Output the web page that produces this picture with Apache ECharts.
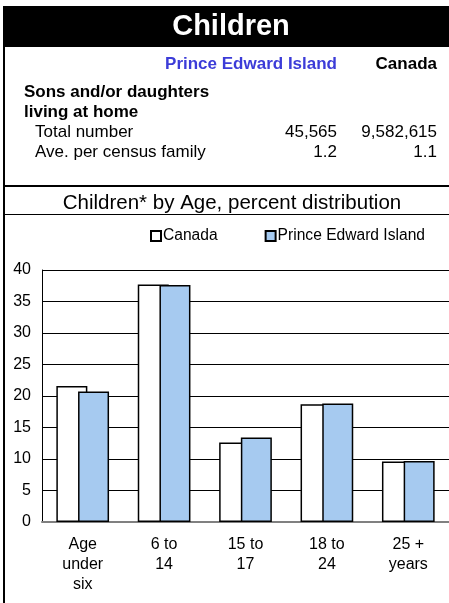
<!DOCTYPE html>
<html>
<head>
<meta charset="utf-8">
<script src="https://cdn.jsdelivr.net/npm/echarts@6/dist/echarts.min.js"></script>
<style>html,body{margin:0;padding:0;background:#fff;}#main{width:449px;height:603px;}</style>
</head>
<body>
<div id="main"></div>
<script>
var categories = ['Age\nunder\nsix', '6 to\n14', '15 to\n17', '18 to\n24', '25 +\nyears'];
var canadaValues = [21.6, 37.7, 12.6, 18.7, 9.6];
var peiValues = [20.7, 37.6, 13.4, 18.8, 9.7];
var yTicks = [0, 5, 10, 15, 20, 25, 30, 35, 40];
var tableRows = [
  ['Total number', '45,565', '9,582,615'],
  ['Ave. per census family', '1.2', '1.1']
];

var FONT = '"Liberation Sans", Arial, sans-serif';
var chart = echarts.init(document.getElementById('main'), null, {renderer: 'canvas'});

var graphics = [
  {type: 'rect', shape: {x: 4, y: 6, width: 445, height: 41}, style: {fill: '#000'}},
  {type: 'text', style: {x: 231, y: 27, text: 'Children', fill: '#fff', font: 'bold 29px ' + FONT, textAlign: 'center', textVerticalAlign: 'middle'}},
  {type: 'rect', shape: {x: 3, y: 6, width: 2, height: 597}, style: {fill: '#000'}},
  {type: 'rect', shape: {x: 3, y: 185, width: 446, height: 2}, style: {fill: '#000'}},
  {type: 'rect', shape: {x: 3, y: 214, width: 446, height: 1}, style: {fill: '#000'}},
  {type: 'text', style: {x: 337, y: 64, text: 'Prince Edward Island', fill: '#3c3cd8', font: 'bold 17px ' + FONT, textAlign: 'right', textVerticalAlign: 'middle'}},
  {type: 'text', style: {x: 437, y: 64, text: 'Canada', fill: '#000', font: 'bold 17px ' + FONT, textAlign: 'right', textVerticalAlign: 'middle'}},
  {type: 'text', style: {x: 24, y: 92, text: 'Sons and/or daughters', fill: '#000', font: 'bold 17px ' + FONT, textAlign: 'left', textVerticalAlign: 'middle'}},
  {type: 'text', style: {x: 24, y: 112, text: 'living at home', fill: '#000', font: 'bold 17px ' + FONT, textAlign: 'left', textVerticalAlign: 'middle'}}
];
tableRows.forEach(function (r, i) {
  var y = 132 + i * 20;
  graphics.push({type: 'text', style: {x: 35, y: y, text: r[0], fill: '#000', font: '17px ' + FONT, textAlign: 'left', textVerticalAlign: 'middle'}});
  graphics.push({type: 'text', style: {x: 337, y: y, text: r[1], fill: '#000', font: '17px ' + FONT, textAlign: 'right', textVerticalAlign: 'middle'}});
  graphics.push({type: 'text', style: {x: 437, y: y, text: r[2], fill: '#000', font: '17px ' + FONT, textAlign: 'right', textVerticalAlign: 'middle'}});
});
graphics.push({type: 'text', style: {x: 232, y: 203, text: 'Children* by Age, percent distribution', fill: '#000', font: '20.5px ' + FONT, textAlign: 'center', textVerticalAlign: 'middle'}});

chart.setOption({
  animation: false,
  textStyle: {fontFamily: FONT},
  graphic: graphics,
  legend: {
    left: 150, top: 228, padding: 0,
    itemWidth: 10, itemHeight: 10, itemGap: 47,
    icon: 'rect',
    textStyle: {fontSize: 15.6, color: '#000', fontFamily: FONT, padding: [0, 0, 0, -3]},
    data: ['Canada', 'Prince Edward Island']
  },
  grid: {left: 42, right: -1, top: 270, bottom: 81, containLabel: false},
  xAxis: {
    type: 'category',
    data: categories,
    axisLine: {show: true, lineStyle: {color: '#808080', width: 2}},
    axisTick: {show: false},
    axisLabel: {fontSize: 16, color: '#000', lineHeight: 20, margin: 13, fontFamily: FONT, interval: 0}
  },
  yAxis: {
    type: 'value',
    min: yTicks[0], max: yTicks[yTicks.length - 1], interval: yTicks[1] - yTicks[0],
    axisLine: {show: true, lineStyle: {color: '#000', width: 1}},
    axisTick: {show: false},
    splitLine: {show: true, lineStyle: {color: '#000', width: 1}},
    axisLabel: {fontSize: 16, color: '#000', margin: 11, fontFamily: FONT}
  },
  series: [
    {
      name: 'Canada', type: 'bar', data: canadaValues,
      barWidth: 31, barGap: '-30%',
      itemStyle: {color: '#fff', borderColor: '#000', borderWidth: 1.5}
    },
    {
      name: 'Prince Edward Island', type: 'bar', data: peiValues,
      barWidth: 31,
      itemStyle: {color: '#a6caf0', borderColor: '#000', borderWidth: 1.5}
    }
  ]
});
</script>
</body>
</html>
